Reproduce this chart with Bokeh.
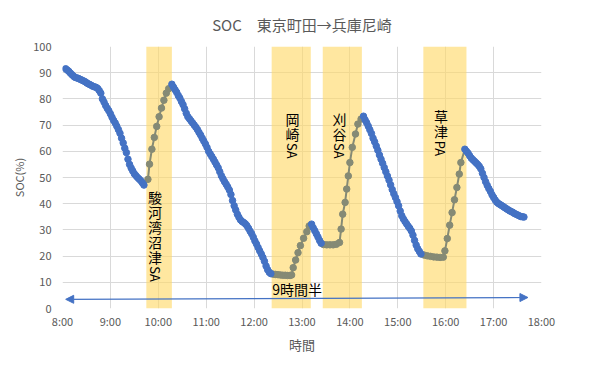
import math
from bokeh.plotting import figure
from bokeh.models import Range1d, FixedTicker, Arrow, NormalHead
from bokeh.core.properties import value
from bokeh.embed import file_html
from bokeh.resources import INLINE

# ---------------- data ----------------
title_text = "SOC\u3000東京町田→兵庫尼崎"
x_title = "時間"
y_title = "SOC(%)"

x_ticks = [8, 9, 10, 11, 12, 13, 14, 15, 16, 17, 18]
x_tick_labels = ["8:00", "9:00", "10:00", "11:00", "12:00", "13:00", "14:00",
                 "15:00", "16:00", "17:00", "18:00"]
y_ticks = [0, 10, 20, 30, 40, 50, 60, 70, 80, 90, 100]

times = [
    "8:04", "8:06", "8:08", "8:10", "8:12", "8:14", "8:16", "8:18", "8:20", "8:22",
    "8:24", "8:26", "8:28", "8:30", "8:32", "8:34", "8:36", "8:38", "8:40", "8:42",
    "8:44", "8:46", "8:48", "8:50", "8:52", "8:54", "8:56", "8:58", "9:00", "9:02",
    "9:04", "9:06", "9:08", "9:10", "9:12", "9:14", "9:16", "9:18", "9:20", "9:22",
    "9:24", "9:26", "9:28", "9:30", "9:32", "9:34", "9:36", "9:38", "9:40", "9:42",
    "9:47", "9:49", "9:52", "9:55", "9:58", "10:01", "10:04", "10:07", "10:10", "10:13",
    "10:17",
    "10:19", "10:21", "10:23", "10:25", "10:27", "10:29", "10:31", "10:33", "10:35", "10:37",
    "10:39", "10:41", "10:43", "10:45", "10:47", "10:49", "10:51", "10:53", "10:55", "10:57",
    "10:59", "11:01", "11:03", "11:05", "11:07", "11:09", "11:11", "11:13", "11:15", "11:17",
    "11:19", "11:21", "11:23", "11:25", "11:27", "11:29", "11:31", "11:33", "11:35", "11:37",
    "11:39", "11:41", "11:43", "11:45", "11:47", "11:49", "11:51", "11:53", "11:55", "11:57",
    "11:59", "12:01", "12:03", "12:05", "12:07", "12:09", "12:11", "12:13", "12:15", "12:17",
    "12:19", "12:21",
    "12:24", "12:27", "12:30", "12:33", "12:36", "12:39", "12:42", "12:45", "12:47", "12:49",
    "12:52", "12:55", "12:58", "13:02", "13:06", "13:09", "13:12",
    "13:14", "13:16", "13:18", "13:20", "13:22", "13:24",
    "13:27", "13:31", "13:35", "13:39", "13:43", "13:47", "13:49", "13:51", "13:54", "13:56",
    "13:58", "14:00", "14:03", "14:07", "14:10", "14:14", "14:17",
    "14:19", "14:21", "14:23", "14:25", "14:27", "14:29", "14:31", "14:33", "14:35", "14:37",
    "14:39", "14:41", "14:43", "14:45", "14:47", "14:49", "14:51", "14:53", "14:55", "14:57",
    "14:59", "15:01", "15:03", "15:05", "15:07", "15:09", "15:11", "15:13", "15:15", "15:17",
    "15:19", "15:21", "15:23", "15:25", "15:27", "15:29",
    "15:33", "15:37", "15:41", "15:45", "15:49", "15:53", "15:57", "15:59", "16:02", "16:05",
    "16:08", "16:11", "16:14", "16:17", "16:19", "16:24",
    "16:26", "16:28", "16:30", "16:32", "16:34", "16:36", "16:38", "16:40", "16:42", "16:44",
    "16:46", "16:48", "16:50", "16:52", "16:54", "16:56", "16:58", "17:00", "17:02", "17:04",
    "17:06", "17:08", "17:10", "17:12", "17:14", "17:16", "17:18", "17:20", "17:22", "17:24",
    "17:26", "17:28", "17:30", "17:32", "17:34", "17:36", "17:38",
]

soc = [
    91.5, 91.0, 90.5, 89.8, 89.2, 88.6, 88.2, 88.0, 87.8, 87.5,
    87.2, 86.9, 86.6, 86.2, 85.8, 85.5, 85.2, 84.8, 84.6, 84.4,
    84.0, 83.2, 82.2, 80.0, 78.8, 77.5, 76.4, 75.5, 74.3, 73.0,
    71.8, 70.8, 69.6, 68.3, 66.9, 65.0, 63.2, 61.2, 59.5, 57.0,
    55.0, 53.6, 52.5, 51.4, 50.7, 50.0, 49.4, 48.8, 48.0, 47.1,
    49.3, 55.1, 60.8, 65.3, 69.5, 73.2, 76.5, 79.5, 82.2, 83.9,
    85.6,
    84.5, 83.5, 82.5, 81.3, 80.3, 79.0, 77.8, 76.2, 74.5, 73.2,
    72.4, 71.6, 70.8, 70.0, 69.2, 68.3, 67.2, 66.2, 65.0, 63.9,
    62.8, 61.5, 60.0, 59.0, 58.0, 57.0, 55.9, 54.8, 53.7, 52.2,
    50.7, 49.5, 48.4, 47.4, 46.4, 45.2, 43.5, 41.2, 39.2, 37.6,
    36.0, 34.8, 33.8, 33.2, 32.8, 32.3, 31.6, 30.6, 29.5, 28.5,
    27.2, 25.8, 24.6, 23.3, 22.0, 20.8, 19.5, 18.0, 16.2, 14.8,
    13.8, 13.3,
    13.1, 13.0, 12.9, 12.8, 12.7, 12.7, 12.6, 12.6, 12.8, 15.6,
    18.5, 21.3, 24.0, 26.8, 29.3, 31.5, 32.2,
    30.8, 29.7, 28.5, 27.3, 26.0, 24.9,
    24.4, 24.3, 24.3, 24.3, 24.5, 25.2, 30.3, 36.0, 40.5, 45.6,
    50.6, 55.7, 61.5, 66.6, 70.4, 72.3, 73.4,
    72.0, 70.9, 69.6, 68.2, 66.8, 65.0, 63.6, 62.0, 60.4, 58.6,
    57.0, 55.4, 53.8, 52.2, 50.6, 49.0, 47.2, 45.4, 43.8, 42.4,
    40.8, 39.2, 37.2, 35.4, 34.2, 33.2, 32.3, 31.4, 30.6, 29.6,
    28.0, 26.0, 24.2, 22.8, 21.8, 20.8,
    20.4, 20.1, 19.9, 19.7, 19.6, 19.5, 19.6, 22.0, 26.7, 31.8,
    36.6, 41.5, 46.2, 51.3, 55.7, 60.8,
    60.0, 59.3, 58.3, 57.4, 56.8, 56.2, 55.6, 55.0, 54.3, 53.3,
    51.6, 50.0, 48.4, 47.0, 45.8, 44.7, 43.4, 42.4, 41.4, 40.6,
    40.1, 39.7, 39.3, 38.9, 38.5, 38.1, 37.7, 37.3, 37.0, 36.7,
    36.3, 36.0, 35.7, 35.4, 35.1, 35.0, 34.9,
]

# charging portions of the SOC curve (drawn grey)
charge_start = ["9:42", "12:21", "13:24", "15:29"]
charge_end = ["10:17", "13:12", "14:17", "16:24"]

# highlighted stop windows
band_start = ["9:45", "12:22", "13:26", "15:32"]
band_end = ["10:17", "13:11", "14:15", "16:26"]

# vertical stop labels: (CJK part, latin part, x time, top y)
stop_cjk = ["駿河湾沼津", "岡崎", "刈谷", "草津"]
stop_latin = ["SA", "SA", "SA", "PA"]
stop_x = ["9:56", "12:48", "13:47", "15:54"]
stop_top = [42.4, 72.4, 72.4, 73.3]

span_x = ["8:04", "17:43"]
span_y = [3.5, 4.2]
span_text = "9時間半"
span_text_x = "12:54"
span_text_y = 7.5

# ---------------- styling ----------------
BLUE = "#4472C4"
GREY = "#858A75"
BAND = "#FFD966"
TXT = "#595959"
FONT = "Noto Sans CJK JP"


def hrs(t):
    h, m = t.split(":")
    return int(h) + int(m) / 60.0


x = [hrs(t) for t in times]
cs = [hrs(t) for t in charge_start]
ce = [hrs(t) for t in charge_end]


def in_charge(a, b):
    for s, e in zip(cs, ce):
        if s - 1e-9 <= a <= e + 1e-9 and s - 1e-9 <= b <= e + 1e-9:
            return True
    return False


def strictly_in_charge(a):
    for s, e in zip(cs, ce):
        if s + 1e-9 < a < e - 1e-9:
            return True
    return False


p = figure(frame_width=479, frame_height=262, output_backend="svg", toolbar_location=None,
           x_range=Range1d(8, 18), y_range=Range1d(0, 100),
           min_border_left=62, min_border_right=55, min_border_top=46,
           min_border_bottom=50)
p.outline_line_color = None
p.background_fill_color = "white"
p.border_fill_color = "white"

# bands
p.quad(left=[hrs(t) for t in band_start], right=[hrs(t) for t in band_end],
       bottom=0, top=100, fill_color=BAND, fill_alpha=0.62, line_color=None)

# line segments
segs = []
cur_state = None
cur = []
for i in range(len(x) - 1):
    st = in_charge(x[i], x[i + 1])
    if st != cur_state:
        if cur:
            segs.append((cur_state, cur))
        cur = [i]
        cur_state = st
    cur.append(i + 1)
if cur:
    segs.append((cur_state, cur))

for st, idx in segs:
    if st:
        p.line([x[i] for i in idx], [soc[i] for i in idx], line_color=GREY, line_width=2)
for st, idx in segs:
    if not st:
        p.line([x[i] for i in idx], [soc[i] for i in idx], line_color=BLUE, line_width=2)

gx = [xx for xx in x if strictly_in_charge(xx)]
gy = [v for xx, v in zip(x, soc) if strictly_in_charge(xx)]
bx = [xx for xx in x if not strictly_in_charge(xx)]
by = [v for xx, v in zip(x, soc) if not strictly_in_charge(xx)]
p.scatter(gx, gy, size=6.5, marker="circle", fill_color=GREY, line_color=GREY)
p.scatter(bx, by, size=6.5, marker="circle", fill_color=BLUE, line_color=BLUE)

# span arrow
p.add_layout(Arrow(x_start=hrs(span_x[0]), y_start=span_y[0],
                   x_end=hrs(span_x[1]), y_end=span_y[1],
                   line_color=BLUE, line_width=1.2,
                   start=NormalHead(size=8, fill_color=BLUE, line_color=BLUE),
                   end=NormalHead(size=8, fill_color=BLUE, line_color=BLUE)))
p.text(x=[hrs(span_text_x)], y=[span_text_y], text=[span_text],
       text_font=value(FONT), text_font_size=value("14px"), text_color="#000000",
       text_align="center", text_baseline="middle")

# vertical stop labels
STEP = 5.7
cx, cy, ct, lx, ly, lt = [], [], [], [], [], []
for cjk, lat, xs, top in zip(stop_cjk, stop_latin, stop_x, stop_top):
    xx = hrs(xs)
    for k, ch in enumerate(cjk):
        cx.append(xx)
        cy.append(top - k * STEP)
        ct.append(ch)
    lx.append(xx)
    ly.append(top - (len(cjk) - 1) * STEP - 6.5)
    lt.append(lat)
p.text(x=cx, y=cy, text=ct, text_font=value(FONT), text_font_size=value("14px"),
       text_color="#000000", text_align="center", text_baseline="middle")
p.text(x=lx, y=ly, text=lt, angle=-math.pi / 2, text_font=value(FONT),
       text_font_size=value("13px"), text_color="#000000",
       text_align="center", text_baseline="middle")

# axes
p.xaxis.ticker = FixedTicker(ticks=x_ticks)
p.xaxis.major_label_overrides = {t: l for t, l in zip(x_ticks, x_tick_labels)}
p.yaxis.ticker = FixedTicker(ticks=y_ticks)
p.xgrid.ticker = FixedTicker(ticks=x_ticks)
p.ygrid.ticker = FixedTicker(ticks=y_ticks)
for g in (p.xgrid, p.ygrid):
    g.grid_line_color = "#D9D9D9"
    g.grid_line_width = 1
for ax in (p.xaxis, p.yaxis):
    ax.axis_line_color = None
    ax.major_tick_line_color = None
    ax.minor_tick_line_color = None
    ax.major_tick_out = 0
    ax.major_tick_in = 0
    ax.minor_tick_out = 0
    ax.minor_tick_in = 0
    ax.major_label_text_font = FONT
    ax.major_label_text_font_size = "11px"
    ax.major_label_text_color = TXT
    ax.axis_label_text_font = FONT
    ax.axis_label_text_color = TXT
    ax.axis_label_text_font_style = "normal"
p.xaxis.major_label_standoff = 4
p.yaxis.major_label_standoff = 11
p.xaxis.axis_label = x_title
p.yaxis.axis_label = y_title
p.xaxis.axis_label_text_font_size = "13px"
p.yaxis.axis_label_text_font_size = "11px"
p.xaxis.axis_label_standoff = 3
p.yaxis.axis_label_standoff = 3

p.title.text = title_text
p.title.align = "center"
p.title.text_font = FONT
p.title.text_font_size = "15px"
p.title.text_font_style = "normal"
p.title.text_color = TXT
p.title.standoff = 23

open("out.html", "w").write(file_html(p, INLINE))
